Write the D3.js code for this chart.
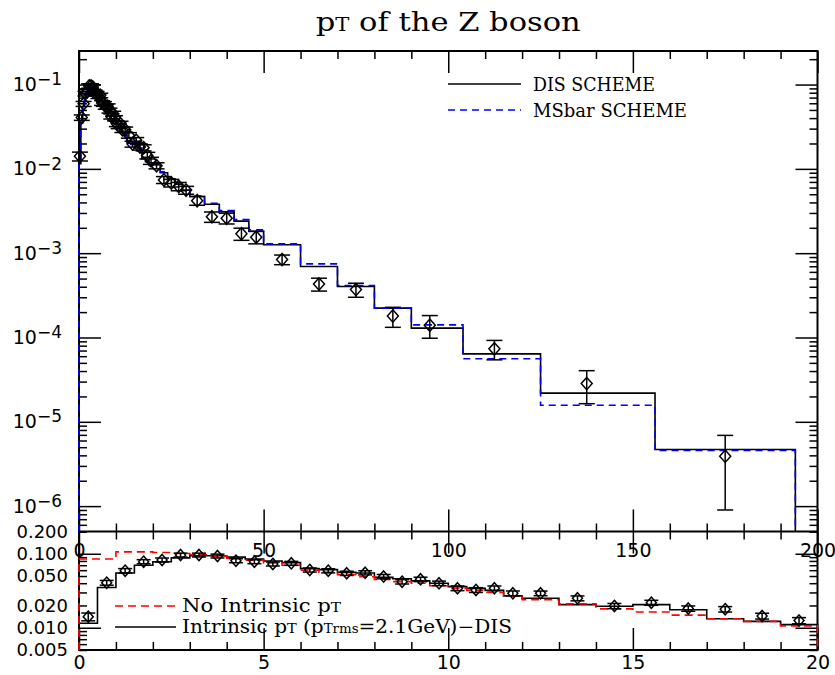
<!DOCTYPE html>
<html>
<head>
<meta charset="utf-8">
<script src="https://cdn.jsdelivr.net/npm/d3@7"></script>
<style>
  body { margin: 0; background: #fff; }
</style>
</head>
<body>
<div id="chart"></div>
<script>
// pT-Spektrum des Z-Bosons: oben 0-200 GeV (log), unten Zoom auf 0-20 GeV

// Messpunkte 0-20 GeV (gemeinsam fuer beide Panels)
const lowPtX = [0.25, 0.75, 1.25, 1.75, 2.25, 2.75, 3.25, 3.75, 4.25, 4.75, 5.25, 5.75,
  6.25, 6.75, 7.25, 7.75, 8.25, 8.75, 9.25, 9.75, 10.25, 10.75, 11.25, 11.75,
  12.5, 13.5, 14.5, 15.5, 16.5, 17.5, 18.5, 19.5];
const lowPtY = [0.0141, 0.0406, 0.0590, 0.0782, 0.0824, 0.0962, 0.0962, 0.0933, 0.0806, 0.0782, 0.0728, 0.0743,
  0.0604, 0.0590, 0.0545, 0.0554, 0.0492, 0.0419, 0.0451, 0.0399, 0.0342, 0.0324, 0.0342, 0.0292,
  0.0292, 0.0250, 0.0197, 0.0218, 0.0182, 0.0178, 0.0144, 0.0125];
const lowPtErr = [0.0017, 0.0030, 0.0040, 0.0050, 0.0052, 0.0058, 0.0058, 0.0056, 0.0050, 0.0048, 0.0045, 0.0046,
  0.0039, 0.0038, 0.0036, 0.0036, 0.0033, 0.0029, 0.0031, 0.0028, 0.0025, 0.0024, 0.0025, 0.0022,
  0.0021, 0.0019, 0.0016, 0.0017, 0.0015, 0.0015, 0.0013, 0.0012];

// Messpunkte oberhalb von 20 GeV
const highPtX = [21, 23, 25, 27, 29, 32, 36, 40, 44, 48, 55, 65, 75, 85, 95, 112.5, 137.5, 175];
const highPtY = [0.0109, 0.0074, 0.0068, 0.0062, 0.0056, 0.0042, 0.0027, 0.0026, 0.0017, 0.00155,
  0.00084, 0.00043, 0.00037, 0.00018, 0.00014, 0.0000733, 0.0000284, 0.0000039];
const highPtErr = [0.0009, 0.0007, 0.0007, 0.0007, 0.0006, 0.0005, 0.00038, 0.00038, 0.00028, 0.00026,
  0.00011, 0.000075, 0.00007, 0.000048, 0.000042, 0.000019, 0.000012, 0.000003];

// Histogramm-Bins
const lowEdges = [0, 0.5, 1, 1.5, 2, 2.5, 3, 3.5, 4, 4.5, 5, 5.5, 6, 6.5, 7, 7.5, 8, 8.5, 9, 9.5,
  10, 10.5, 11, 11.5, 12, 13, 14, 15, 16, 17, 18, 19, 20];
const highEdges = [20, 22, 24, 26, 28, 30, 34, 38, 42, 46, 50, 60, 70, 80, 90, 104, 125, 156, 194];

// Theorie: DIS (mit intrinsischem pT), MSbar, ohne intrinsisches pT
const disLow = [0.0115, 0.035, 0.055, 0.070, 0.078, 0.088, 0.094, 0.094, 0.090, 0.085, 0.080, 0.076,
  0.063, 0.061, 0.056, 0.055, 0.048, 0.046, 0.043, 0.040, 0.036, 0.034, 0.032, 0.027,
  0.025, 0.0205, 0.0195, 0.0205, 0.0175, 0.0132, 0.0122, 0.011];
const msbarLow = [0.012, 0.036, 0.057, 0.072, 0.080, 0.089, 0.094, 0.093, 0.089, 0.084, 0.079, 0.075,
  0.064, 0.061, 0.057, 0.055, 0.049, 0.046, 0.043, 0.041, 0.037, 0.034, 0.032, 0.028,
  0.025, 0.021, 0.0198, 0.0203, 0.0176, 0.0136, 0.0124, 0.0113];
const disHigh = [0.0112, 0.0090, 0.0076, 0.0066, 0.0056, 0.0047, 0.0038, 0.0031, 0.0024, 0.00182,
  0.00126, 0.000695, 0.000403, 0.000223, 0.000129, 0.000064, 0.0000219, 0.00000469];
const msbarHigh = [0.0115, 0.0092, 0.0078, 0.0067, 0.0057, 0.0048, 0.0039, 0.0032, 0.0025, 0.00189,
  0.00129, 0.000747, 0.000414, 0.000223, 0.000141, 0.000056, 0.0000157, 0.00000457];
const noIntrinsic = [0.085, 0.085, 0.106, 0.106, 0.104, 0.101, 0.097, 0.093, 0.087, 0.082, 0.075, 0.070,
  0.060, 0.056, 0.052, 0.049, 0.045, 0.042, 0.040, 0.037, 0.034, 0.032, 0.030, 0.027,
  0.024, 0.021, 0.018, 0.0163, 0.0148, 0.0132, 0.0122, 0.0106];

// Beschriftungen
const topXTicks = [0, 50, 100, 150, 200];
const botXTicks = [0, 5, 10, 15, 20];
const botYLabels = [0.2, 0.1, 0.05, 0.02, 0.01, 0.005];

// Layout
const width = 835, height = 675;
const frameLeft = 79, frameRight = 817.5, frameTop = 51, frameMid = 531.5, frameBottom = 650;

const svg = d3.select("#chart").append("svg")
  .attr("width", width)
  .attr("height", height)
  .style("font-family", "'DejaVu Sans', sans-serif");

// Skalen
const xTop = d3.scaleLinear().domain([0, 200]).range([frameLeft, frameRight]);
const yTop = d3.scaleLog().domain([5e-7, 0.25]).range([frameMid, frameTop]);
const xBot = d3.scaleLinear().domain([0, 20]).range([frameLeft, frameRight]);
const yBot = d3.scaleLog().domain([0.005, 0.2]).range([frameBottom, frameMid]);

// Titel
svg.append("text")
  .attr("x", (frameLeft + frameRight) / 2)
  .attr("y", 31)
  .attr("text-anchor", "middle")
  .attr("font-family", "'DejaVu Serif', serif")
  .attr("font-size", 26)
  .attr("textLength", 265)
  .attr("lengthAdjust", "spacingAndGlyphs")
  .call(t => {
    t.append("tspan").text("p");
    t.append("tspan").attr("font-size", 18).text("T");
    t.append("tspan").text(" of the Z boson");
  });

// Rahmen
svg.append("rect")
  .attr("x", frameLeft).attr("y", frameTop)
  .attr("width", frameRight - frameLeft).attr("height", frameBottom - frameTop)
  .attr("fill", "none").attr("stroke", "black").attr("stroke-width", 2);
svg.append("line")
  .attr("x1", frameLeft).attr("x2", frameRight).attr("y1", frameMid).attr("y2", frameMid)
  .attr("stroke", "black").attr("stroke-width", 2);

// Achsen-Helfer: Domain weg, Strichstaerke setzen
function axisG(x, y, axis, fontSize) {
  const g = svg.append("g")
    .attr("transform", `translate(${x},${y})`)
    .call(axis);
  g.select(".domain").remove();
  g.selectAll(".tick line").attr("stroke", "black").attr("stroke-width", 1.5);
  g.attr("font-family", null).attr("font-size", fontSize || 18);
  g.selectAll(".tick text").attr("fill", "black");
  return g;
}

const isDecade = d => Math.abs(Math.log10(d) - Math.round(Math.log10(d))) < 1e-9;

// --- oberes Panel: y (log) ---
const topMinor = yTop.ticks().filter(d => !isDecade(d));
const topMajor = yTop.ticks().filter(isDecade);

axisG(frameLeft, 0, d3.axisLeft(yTop).tickValues(topMinor).tickSizeInner(-8).tickSizeOuter(0).tickFormat(""));
axisG(frameRight, 0, d3.axisRight(yTop).tickValues(topMinor).tickSizeInner(-8).tickSizeOuter(0).tickFormat(""));
axisG(frameRight, 0, d3.axisRight(yTop).tickValues(topMajor).tickSizeInner(-22).tickSizeOuter(0).tickFormat(""));
axisG(frameLeft, 0, d3.axisLeft(yTop).tickValues(topMajor).tickSizeInner(-22).tickSizeOuter(0).tickPadding(17), 19)
  .selectAll(".tick text")
  .each(function (d) {
    const t = d3.select(this);
    const e = Math.round(Math.log10(d));
    t.text(null);
    t.append("tspan").text("10");
    t.append("tspan").attr("dy", "-0.35em").attr("font-size", 17).text("\u2212" + Math.abs(e));
  });

// --- oberes Panel: x ---
const topXMinor = d3.range(0, 201, 10).filter(d => d % 50 !== 0);
axisG(0, frameMid, d3.axisBottom(xTop).tickValues(topXMinor).tickSizeInner(-8).tickSizeOuter(0).tickFormat(""));
axisG(0, frameMid, d3.axisBottom(xTop).tickValues(topXTicks).tickSizeInner(-22).tickSizeOuter(0).tickPadding(12).tickFormat(d3.format("d")), 19);
axisG(0, frameTop, d3.axisTop(xTop).tickValues(topXMinor).tickSizeInner(-8).tickSizeOuter(0).tickFormat(""));
axisG(0, frameTop, d3.axisTop(xTop).tickValues(topXTicks).tickSizeInner(-22).tickSizeOuter(0).tickFormat(""));

// --- unteres Panel: y (log) ---
const botMinor = yBot.ticks().filter(d => !isDecade(d));
const botMajor = yBot.ticks().filter(isDecade);
axisG(frameLeft, 0, d3.axisLeft(yBot).tickValues(botMinor).tickSizeInner(-8).tickSizeOuter(0).tickFormat(""));
axisG(frameLeft, 0, d3.axisLeft(yBot).tickValues(botMajor).tickSizeInner(-22).tickSizeOuter(0).tickFormat(""));
axisG(frameRight, 0, d3.axisRight(yBot).tickValues(botMinor).tickSizeInner(-8).tickSizeOuter(0).tickFormat(""));
axisG(frameRight, 0, d3.axisRight(yBot).tickValues(botMajor).tickSizeInner(-22).tickSizeOuter(0).tickFormat(""));
axisG(frameLeft, 0, d3.axisLeft(yBot).tickValues(botYLabels).tickSize(0).tickPadding(11).tickFormat(d3.format(".3f")));

// --- unteres Panel: x ---
const botXMinor = d3.range(0, 21, 1).filter(d => d % 5 !== 0);
axisG(0, frameBottom, d3.axisBottom(xBot).tickValues(botXMinor).tickSizeInner(-8).tickSizeOuter(0).tickFormat(""));
axisG(0, frameBottom, d3.axisBottom(xBot).tickValues(botXTicks).tickSizeInner(-22).tickSizeOuter(0).tickPadding(5.5).tickFormat(d3.format("d")), 19);
axisG(0, frameMid, d3.axisTop(xBot).tickValues(botXMinor).tickSizeInner(-8).tickSizeOuter(0).tickFormat(""));
axisG(0, frameMid, d3.axisTop(xBot).tickValues(botXTicks).tickSizeInner(-22).tickSizeOuter(0).tickFormat(""));

// Histogramm als Treppenlinie, von der Grundlinie aus und wieder zurueck
function stepPath(edges, vals, x, y, base) {
  const pts = [[edges[0], base]];
  vals.forEach((v, i) => pts.push([edges[i], v]));
  pts.push([edges[edges.length - 1], vals[vals.length - 1]]);
  pts.push([edges[edges.length - 1], base]);
  return d3.line()
    .x(d => x(d[0]))
    .y(d => y(d[1]))
    .curve(d3.curveStepAfter)(pts);
}

const allEdges = lowEdges.concat(highEdges.slice(1));

// oberes Panel: DIS und MSbar
svg.append("path")
  .attr("d", stepPath(allEdges, disLow.concat(disHigh), xTop, yTop, 5e-7))
  .attr("fill", "none").attr("stroke", "black").attr("stroke-width", 1.6);
svg.append("path")
  .attr("d", stepPath(allEdges, msbarLow.concat(msbarHigh), xTop, yTop, 5e-7))
  .attr("fill", "none").attr("stroke", "#0000ff").attr("stroke-width", 1.6)
  .attr("stroke-dasharray", "7,5");

// unteres Panel: mit / ohne intrinsisches pT
svg.append("path")
  .attr("d", stepPath(lowEdges, disLow, xBot, yBot, 0.005))
  .attr("fill", "none").attr("stroke", "black").attr("stroke-width", 1.6);
svg.append("path")
  .attr("d", stepPath(lowEdges, noIntrinsic, xBot, yBot, 0.005))
  .attr("fill", "none").attr("stroke", "#ff0000").attr("stroke-width", 1.6)
  .attr("stroke-dasharray", "8,5");

// Rauten-Symbol, etwas hoeher als breit
const rhombus = {
  draw(ctx, r) {
    ctx.moveTo(0, -r * 1.12);
    ctx.lineTo(r, 0);
    ctx.lineTo(0, r * 1.12);
    ctx.lineTo(-r, 0);
    ctx.closePath();
  }
};

// Datenpunkte mit Fehlerbalken
function drawPoints(xs, ys, es, x, y, r, cap) {
  const pts = xs.map((d, i) => ({ x: d, y: ys[i], e: es[i] }));
  const g = svg.append("g").attr("stroke", "black").attr("stroke-width", 1.5).attr("fill", "none");
  const p = g.selectAll("g").data(pts).join("g");
  p.append("line")
    .attr("x1", d => x(d.x)).attr("x2", d => x(d.x))
    .attr("y1", d => y(d.y + d.e)).attr("y2", d => y(d.y - d.e));
  p.append("line")
    .attr("x1", d => x(d.x) - cap).attr("x2", d => x(d.x) + cap)
    .attr("y1", d => y(d.y + d.e)).attr("y2", d => y(d.y + d.e));
  p.append("line")
    .attr("x1", d => x(d.x) - cap).attr("x2", d => x(d.x) + cap)
    .attr("y1", d => y(d.y - d.e)).attr("y2", d => y(d.y - d.e));
  p.append("path")
    .attr("transform", d => `translate(${x(d.x)},${y(d.y)})`)
    .attr("d", d3.symbol(rhombus, r));
}

drawPoints(lowPtX.concat(highPtX), lowPtY.concat(highPtY), lowPtErr.concat(highPtErr), xTop, yTop, 5.5, 8);
drawPoints(lowPtX, lowPtY, lowPtErr, xBot, yBot, 5, 7);

// Legende oben
const legTop = svg.append("g").attr("font-family", "'DejaVu Serif', serif").attr("font-size", 19);
legTop.append("line").attr("x1", 448).attr("x2", 521).attr("y1", 84).attr("y2", 84)
  .attr("stroke", "black").attr("stroke-width", 1.6);
legTop.append("line").attr("x1", 448).attr("x2", 521).attr("y1", 110).attr("y2", 110)
  .attr("stroke", "#0000ff").attr("stroke-width", 1.6).attr("stroke-dasharray", "7,5");
legTop.append("text").attr("x", 533).attr("y", 91).attr("textLength", 122)
  .attr("lengthAdjust", "spacingAndGlyphs").text("DIS SCHEME");
legTop.append("text").attr("x", 533).attr("y", 117).attr("textLength", 154)
  .attr("lengthAdjust", "spacingAndGlyphs").text("MSbar SCHEME");

// Legende unten
const legBot = svg.append("g").attr("font-family", "'DejaVu Serif', serif").attr("font-size", 18);
legBot.append("line").attr("x1", 115).attr("x2", 176).attr("y1", 606).attr("y2", 606)
  .attr("stroke", "#ff0000").attr("stroke-width", 1.6).attr("stroke-dasharray", "8,5");
legBot.append("line").attr("x1", 115).attr("x2", 176).attr("y1", 627).attr("y2", 627)
  .attr("stroke", "black").attr("stroke-width", 1.6);
legBot.append("text").attr("x", 182).attr("y", 612)
  .attr("textLength", 159).attr("lengthAdjust", "spacingAndGlyphs")
  .call(t => {
    t.append("tspan").text("No Intrinsic p");
    t.append("tspan").attr("font-size", 13).text("T");
  });
legBot.append("text").attr("x", 182).attr("y", 633)
  .attr("textLength", 330).attr("lengthAdjust", "spacingAndGlyphs")
  .call(t => {
    t.append("tspan").text("Intrinsic p");
    t.append("tspan").attr("font-size", 13).text("T");
    t.append("tspan").text(" (p");
    t.append("tspan").attr("font-size", 12).text("Trms");
    t.append("tspan").text("=2.1GeV)\u2212DIS");
  });
</script>
</body>
</html>
